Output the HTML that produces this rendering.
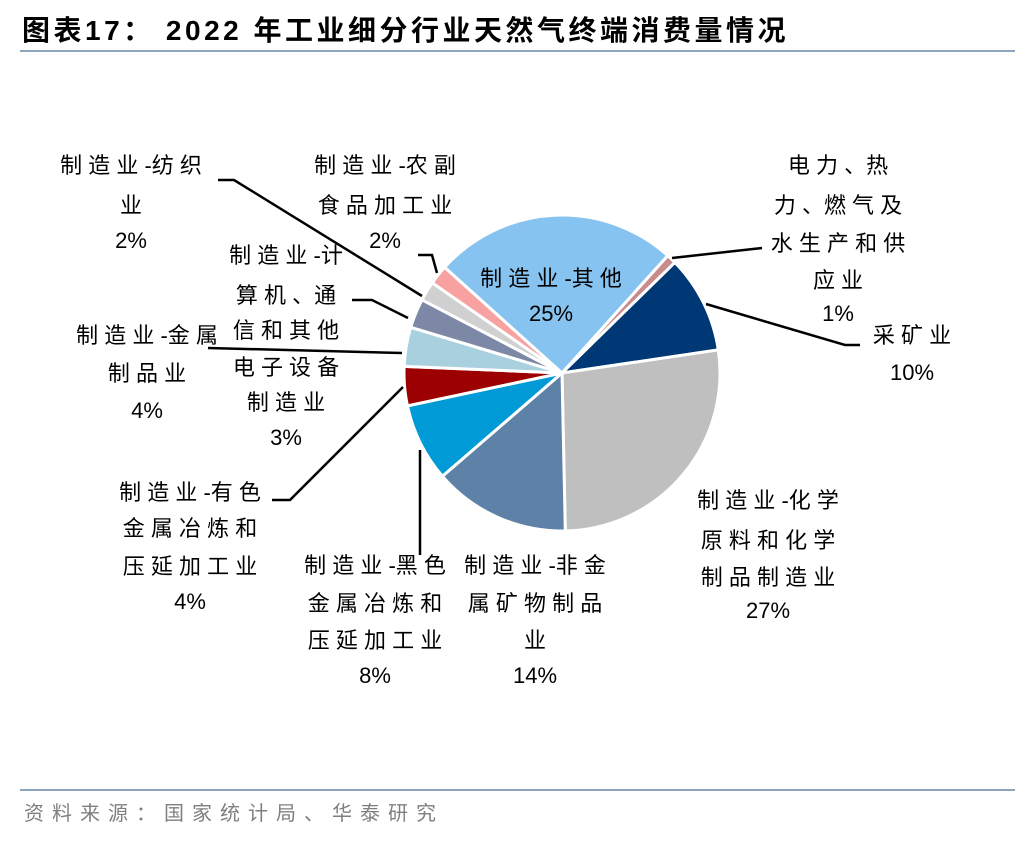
<!DOCTYPE html>
<html><head><meta charset="utf-8">
<style>
body{margin:0;width:1036px;height:840px;background:#fff;overflow:hidden;font-family:"Liberation Sans","Noto Sans CJK SC",sans-serif;}
svg text{font-family:"Liberation Sans","Noto Sans CJK SC",sans-serif;}
</style></head><body>
<svg width="1036" height="840">
<text x="22" y="40" font-size="28" font-weight="bold" fill="#000" letter-spacing="3.5">图表17：  2022 年工业细分行业天然气终端消费量情况</text>
<rect x="20" y="50" width="995" height="2" fill="#8EA6BD"/>
<rect x="20" y="789" width="995" height="2" fill="#8EA6BD"/>
<text x="24" y="820" font-size="20" fill="#7f7f7f" letter-spacing="8">资料来源：国家统计局、华泰研究</text>
<g id="pie"></g>
<g id="leaders" stroke="#000" stroke-width="2.5" fill="none">
<polyline points="218,180 234,180 422,296"/>
<polyline points="418,255 432,255 437,273"/>
<polyline points="352,300 372,300 408,318"/>
<polyline points="208,348 402,353"/>
<polyline points="272,500 290,500 403,387"/>
<polyline points="420,450 420,555"/>
<polyline points="672,258 762,248"/>
<polyline points="706,304 845,345 860,345"/>
</g>
<g id="labels" font-size="22" text-anchor="middle" fill="#000"></g>
</svg>
<script>
const categories=["电力、热力、燃气及水生产和供应业","采矿业","制造业-化学原料和化学制品制造业","制造业-非金属矿物制品业","制造业-黑色金属冶炼和压延加工业","制造业-有色金属冶炼和压延加工业","制造业-金属制品业","制造业-计算机、通信和其他电子设备制造业","制造业-纺织业","制造业-农副食品加工业","制造业-其他"];
const values=[1,10,27,14,8,4,4,3,2,2,25];
const colors=["#C98C8C","#003876","#BFBFBF","#5E81A8","#009BD6","#9C0000","#A8D0DF","#7D88A6","#D0D0D0","#F7A1A1","#86C3F0"];
const cx=562,cy=373,r=158,start=42;
const NS="http://www.w3.org/2000/svg";
const pie=document.getElementById('pie');
const total=values.reduce((a,b)=>a+b,0);
let a=start;
function pt(deg,rr){const t=deg*Math.PI/180;return [cx+rr*Math.sin(t),cy-rr*Math.cos(t)];}
values.forEach((v,i)=>{
  const sweep=v/total*360;const p1=pt(a,r),p2=pt(a+sweep,r);
  const path=document.createElementNS(NS,'path');
  path.setAttribute('d',`M${cx},${cy} L${p1[0]},${p1[1]} A${r},${r} 0 ${sweep>180?1:0} 1 ${p2[0]},${p2[1]} Z`);
  path.setAttribute('fill',colors[i]);path.setAttribute('stroke','#fff');path.setAttribute('stroke-width','3');
  
  
  pie.appendChild(path);a+=sweep;
});
const labelDefs=[
 [131,[165,205,240],["制 造 业 -纺 织","业",values[8]+"%"]],
 [385,[165,205,240],["制 造 业 -农 副","食 品 加 工 业",values[9]+"%"]],
 [838,[165,205,243,280,313],["电 力 、热","力 、燃 气 及","水 生 产 和 供","应 业",values[0]+"%"]],
 [912,[335,372],["采 矿 业",values[1]+"%"]],
 [286,[255,295,330,367,402,437],["制 造 业 -计","算 机 、通","信 和 其 他","电 子 设 备","制 造 业",values[7]+"%"]],
 [147,[335,373,410],["制 造 业 -金 属","制 品 业",values[6]+"%"]],
 [190,[492,528,566,601],["制 造 业 -有 色","金 属 冶 炼 和","压 延 加 工 业",values[5]+"%"]],
 [375,[565,603,640,675],["制 造 业 -黑 色","金 属 冶 炼 和","压 延 加 工 业",values[4]+"%"]],
 [535,[565,603,640,675],["制 造 业 -非 金","属 矿 物 制 品","业",values[3]+"%"]],
 [768,[500,540,577,610],["制 造 业 -化 学","原 料 和 化 学","制 品 制 造 业",values[2]+"%"]],
 [551,[278,313],["制 造 业 -其 他",values[10]+"%"]]
];
const lg=document.getElementById('labels');
labelDefs.forEach((d,i)=>{
  d[2].forEach((s,j)=>{
    const t=document.createElementNS(NS,'text');
    t.setAttribute('x',d[0]);t.setAttribute('y',d[1][j]+8);
    t.textContent=s;
    
    
    lg.appendChild(t);
  });
});
</script>
</body></html>
